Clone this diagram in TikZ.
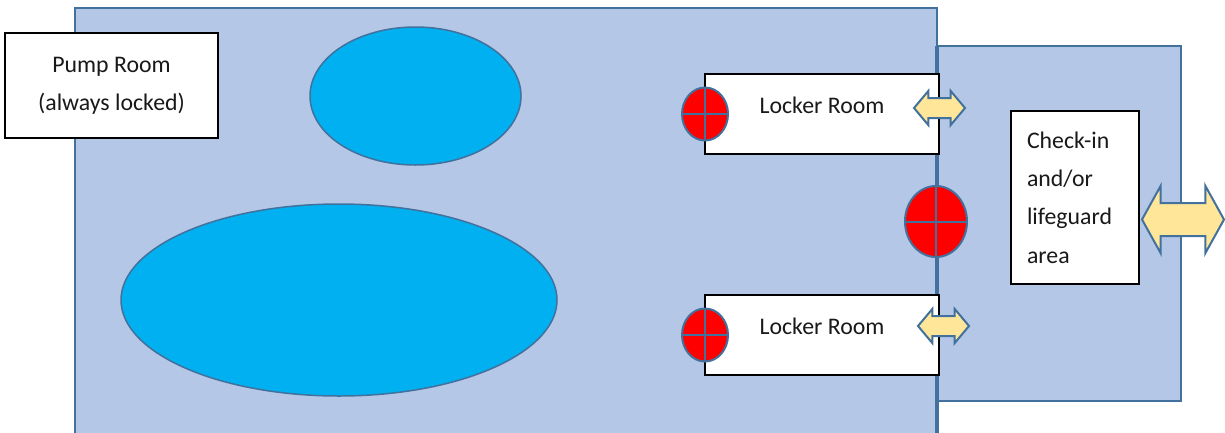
\documentclass[tikz,border=0pt]{standalone}
\usepackage{fontspec}
\setmainfont{Carlito}
\usepackage{tikz}
\usetikzlibrary{shapes.geometric}
\usetikzlibrary{shapes.arrows}
\definecolor{roomBody}{HTML}{B4C7E7}
\definecolor{roomBorder}{HTML}{41719C}
\definecolor{poolBody}{HTML}{00B0F0}
\definecolor{doorBody}{HTML}{FF0000}
\definecolor{passBody}{HTML}{FFE699}
\tikzstyle{room} = [rectangle, fill=roomBody, draw=roomBorder, line width=2.5pt, inner sep=0, outer sep=0]
\tikzstyle{pool} = [ellipse, fill=poolBody, draw=roomBorder, line width=1.5pt, inner sep=0, outer sep=0]
\tikzstyle{label box} = [rectangle, fill=white, draw=black, line width=2.4pt, inner sep=0, outer sep=0,
        font={\fontsize{23.8}{38.4}\selectfont}, text=black!90]
\tikzstyle{door} = [ellipse, fill=doorBody, draw=roomBorder, line width=2pt, inner sep=0, outer sep=0,
        path picture={
            \draw [roomBorder, line width=2pt] (path picture bounding box.west) -- (path picture bounding box.east);
            \draw [roomBorder, line width=2pt] (path picture bounding box.north) -- (path picture bounding box.south);
        }]
\tikzstyle{passage} = [double arrow, fill=passBody, draw=roomBorder, line width=2pt, inner sep=9pt, outer sep=0,
        minimum width=32pt, minimum height=51pt, double arrow head extend=7pt, double arrow tip angle=100]
\begin{document}
\begin{tikzpicture}[x=1pt, y=-1pt]
        \useasboundingbox (0,0) rectangle (1225,432);
        \node [room, minimum width=862pt, minimum height=426pt] (building) at (506,221) {};
        \node [room, minimum width=244pt, minimum height=355pt] (entrance) at (1059,223.5) {};
        \draw [roomBorder, line width=3.5pt] (entrance.north west) -- (building.south east);
        \node [pool, minimum width=211pt, minimum height=138pt] (smallPool) at (415.5,96) {};
        \node [pool, minimum width=436pt, minimum height=192pt] (bigPool) at (339,300) {};
        \node [label box, minimum width=213pt, minimum height=105pt] (pump) at (111.5,85.5) {\raisebox{5pt}{\parbox{200pt}{\centering Pump Room\\(always locked)}}};
        \node [label box, minimum width=234pt, minimum height=80pt] (lockerA) at (822,114) {\raisebox{18pt}{Locker Room}};
        \node [label box, minimum width=234pt, minimum height=80pt] (lockerB) at (822,335) {\raisebox{18pt}{Locker Room}};
        \node [label box, align=left, text width=96pt, minimum width=128pt, minimum height=173pt] (checkin) at (1075,197.5) {Check-in\\and/or\\lifeguard\\area};
        \node [door, minimum width=46pt, minimum height=53pt] (doorA) at (lockerA.west) {};
        \node [door, minimum width=46pt, minimum height=53pt] (doorB) at (lockerB.west) {};
        \node [door, minimum width=62pt, minimum height=71pt] (doorMain) at (936,221.5) {};
        \node [passage] (passA) at (939.5,108) {};
        \node [passage] (passB) at (943.5,326) {};
        \node [passage, inner sep=15.5pt, minimum width=65pt, minimum height=82pt, double arrow head extend=17pt, double arrow tip angle=122] (passMain) at (1183,219.5) {};
    \end{tikzpicture}
\end{document}
